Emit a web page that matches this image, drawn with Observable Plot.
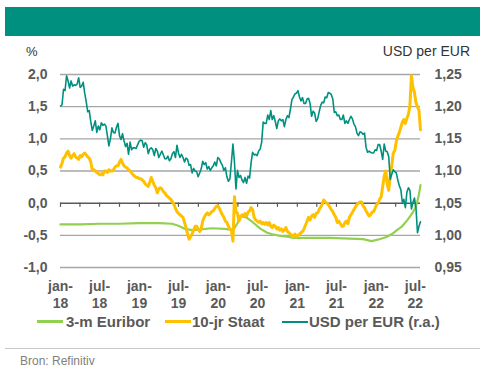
<!DOCTYPE html>
<html>
<head>
<meta charset="utf-8">
<script src="https://cdn.jsdelivr.net/npm/d3@7"></script>
<script src="https://cdn.jsdelivr.net/npm/@observablehq/plot@0.6"></script>
<style>
  html, body { margin: 0; padding: 0; background: #fff; }
  #root { position: relative; width: 490px; height: 381px; overflow: hidden;
          font-family: "Liberation Sans", Arial, sans-serif; }
  .abs { position: absolute; white-space: nowrap; }
  #chart { position: absolute; left: 0; top: 0; }
  .lg-line { position: absolute; width: 26px; }
  .lg-text { position: absolute; font-size: 15px; line-height: 15px; font-weight: bold; color: #595959; top: 314px; }
</style>
</head>
<body>
<div id="root">
  <div class="abs" style="left:5px;top:7px;width:475px;height:29px;background:#00907f;"></div>
  <div class="abs" style="left:26px;top:45px;font-size:13px;line-height:13px;color:#333;">%</div>
  <div class="abs" style="right:20px;top:44px;font-size:14px;line-height:14px;color:#333;">USD per EUR</div>
  <div id="chart"></div>
  <div class="lg-line" style="left:37px;top:320px;height:3px;background:#92d050;"></div>
  <div class="lg-text" style="left:66px;">3-m Euribor</div>
  <div class="lg-line" style="left:165px;top:320px;height:3px;background:#ffc000;"></div>
  <div class="lg-text" style="left:192px;">10-jr Staat</div>
  <div class="lg-line" style="left:282px;top:321px;height:2px;background:#00907f;"></div>
  <div class="lg-text" style="left:309px;">USD per EUR (r.a.)</div>
  <div class="abs" style="left:5px;top:348px;width:475px;height:1px;background:#c8c8c8;"></div>
  <div class="abs" style="left:20px;top:355px;font-size:12px;line-height:12px;color:#808080;">Bron: Refinitiv</div>
</div>
<script>
// ---- data ----
// weekly observations (Mondays) starting 2018-01-01
const weekStart = "2018-01-01";

const usdPerEur = [
  1.201,1.203,1.227,1.225,1.248,1.240,1.229,1.240,1.232,1.234,1.233,1.235,1.245,1.230,1.232,1.238,1.221,1.208,1.192,1.194,1.177,1.163,1.170,1.178,1.160,1.170,1.164,1.175,1.171,1.173,1.170,1.155,1.139,1.150,1.167,1.160,1.159,1.168,1.174,1.155,1.149,1.158,1.147,1.138,1.143,1.126,1.145,1.133,1.136,1.136,1.135,1.141,1.146,
  1.148,1.147,1.137,1.144,1.141,1.127,1.134,1.136,1.133,1.124,1.135,1.131,1.121,1.126,1.131,1.125,1.119,1.119,1.123,1.116,1.119,1.127,1.130,1.121,1.140,1.128,1.121,1.126,1.121,1.114,1.120,1.118,1.109,1.110,1.097,1.104,1.100,1.099,1.091,1.097,1.103,1.115,1.110,1.113,1.103,1.107,1.101,1.105,1.108,1.114,1.108,1.121,
  1.119,1.113,1.109,1.101,1.105,1.091,1.084,1.088,1.114,1.142,1.114,1.072,1.101,1.090,1.093,1.086,1.082,1.090,1.081,1.092,1.089,1.113,1.129,1.125,1.126,1.124,1.131,1.134,1.145,1.176,1.174,1.174,1.187,1.180,1.194,1.180,1.186,1.177,1.166,1.178,1.181,1.178,1.180,1.169,1.180,1.186,1.183,1.196,1.211,1.215,1.220,1.221,
  1.225,1.215,1.209,1.214,1.205,1.205,1.212,1.213,1.205,1.185,1.193,1.190,1.177,1.181,1.192,1.202,1.207,1.206,1.215,1.214,1.222,1.221,1.219,1.212,1.191,1.192,1.186,1.187,1.180,1.180,1.187,1.174,1.178,1.174,1.180,1.185,1.181,1.173,1.169,1.159,1.155,1.161,1.160,1.157,1.159,1.137,1.129,1.131,1.129,1.128,1.128,1.133,
  1.132,1.141,1.141,1.131,1.118,1.142,1.131,1.130,1.122,1.087,1.095,1.102,1.099,1.097,1.086,1.077,1.071,1.051,1.056,1.043,1.067,1.074,1.070,1.041,1.051,1.058,1.043,1.004,1.014,1.021
];

const staat10jr = [
  0.56,0.62,0.70,0.72,0.78,0.81,0.74,0.70,0.74,0.77,0.72,0.70,0.68,0.74,0.72,0.76,0.78,0.75,0.72,0.70,0.64,0.52,0.52,0.50,0.48,0.46,0.44,0.46,0.44,0.50,0.50,0.48,0.52,0.50,0.50,0.52,0.56,0.58,0.58,0.64,0.68,0.62,0.58,0.56,0.55,0.52,0.50,0.47,0.44,0.42,0.40,0.40,0.38,
  0.38,0.36,0.34,0.30,0.28,0.26,0.32,0.40,0.34,0.28,0.24,0.16,0.22,0.24,0.22,0.18,0.16,0.12,0.10,0.08,0.06,0.02,-0.02,-0.08,-0.13,-0.16,-0.18,-0.20,-0.22,-0.30,-0.38,-0.48,-0.56,-0.52,-0.48,-0.42,-0.36,-0.36,-0.40,-0.44,-0.40,-0.28,-0.22,-0.18,-0.15,-0.18,-0.16,-0.13,-0.12,-0.08,-0.05,-0.04,
  -0.08,-0.13,-0.18,-0.22,-0.28,-0.30,-0.36,-0.40,-0.42,-0.59,0.10,-0.13,-0.16,-0.28,-0.22,-0.18,-0.20,-0.16,-0.20,-0.14,-0.12,-0.07,-0.10,-0.22,-0.26,-0.28,-0.30,-0.28,-0.32,-0.30,-0.33,-0.30,-0.34,-0.30,-0.36,-0.38,-0.34,-0.36,-0.40,-0.38,-0.42,-0.40,-0.44,-0.42,-0.38,-0.44,-0.46,-0.48,-0.50,-0.52,-0.48,-0.52,
  -0.50,-0.48,-0.46,-0.44,-0.40,-0.34,-0.28,-0.22,-0.26,-0.20,-0.18,-0.22,-0.16,-0.15,-0.10,-0.06,-0.02,0.05,0.02,0.00,-0.02,-0.06,-0.10,-0.13,-0.18,-0.22,-0.30,-0.28,-0.32,-0.36,-0.36,-0.30,-0.28,-0.32,-0.22,-0.18,-0.14,-0.10,-0.06,-0.02,0.00,0.02,0.02,-0.04,-0.07,-0.12,-0.16,-0.20,-0.18,-0.14,-0.13,-0.08,
  -0.02,0.00,0.06,0.10,0.26,0.42,0.50,0.30,0.20,0.42,0.58,0.78,0.82,0.96,1.04,1.10,1.18,1.26,1.30,1.24,1.32,1.38,1.52,1.98,1.80,1.72,1.56,1.50,1.44,1.14
];

const euriborDates = ["2018-01-01","2018-04-01","2018-07-01","2018-10-01","2019-01-01","2019-04-01","2019-06-01","2019-07-01","2019-08-01","2019-09-01","2019-10-01","2019-12-01","2020-02-01","2020-03-10","2020-04-01","2020-04-10","2020-05-10","2020-06-10","2020-07-15","2020-08-15","2020-09-15","2020-10-15","2020-11-15","2020-12-15","2021-02-01","2021-06-01","2021-09-01","2021-11-01","2021-12-10","2022-01-15","2022-02-15","2022-03-15","2022-04-10","2022-05-01","2022-05-26","2022-06-18","2022-06-30","2022-07-10","2022-07-18","2022-07-25"];
const euribor3m = [-0.33,-0.33,-0.32,-0.32,-0.31,-0.31,-0.32,-0.35,-0.40,-0.42,-0.41,-0.39,-0.40,-0.42,-0.30,-0.20,-0.22,-0.30,-0.40,-0.46,-0.49,-0.51,-0.52,-0.54,-0.54,-0.54,-0.55,-0.56,-0.59,-0.56,-0.53,-0.48,-0.41,-0.36,-0.26,-0.15,-0.08,0.02,0.14,0.28];

const leftTicks = [-1, -0.5, 0, 0.5, 1, 1.5, 2];
const rightTicks = [0.95, 1.00, 1.05, 1.10, 1.15, 1.20, 1.25];
const xLabelDates = ["2018-01-01","2018-07-01","2019-01-01","2019-07-01","2020-01-01","2020-07-01","2021-01-01","2021-07-01","2022-01-01","2022-07-01"];
const monthLabels = {0: "jan-", 6: "jul-"};

// ---- build ----
const t0 = new Date(weekStart).getTime();
const weekDate = i => new Date(t0 + i * 7 * 864e5);
const toLeft = u => 10 * u - 10.5;      // 1,25 <-> 2,0 ; 0,95 <-> -1,0
const fromLeft = v => (v + 10.5) / 10;

const usdRows = usdPerEur.map((u, i) => ({date: weekDate(i), v: toLeft(u)}));
const yieldRows = staat10jr.map((v, i) => ({date: weekDate(i), v}));
const euriborRows = euriborDates.map((d, i) => ({date: new Date(d), v: euribor3m[i]}));
const labelDates = xLabelDates.map(d => new Date(d));
const quarterTicks = d3.utcMonth.every(3).range(new Date("2018-01-01"), new Date("2022-07-02"));

const chart = Plot.plot({
  width: 490,
  height: 320,
  marginTop: 74,
  marginBottom: 53,
  marginLeft: 60,
  marginRight: 70,
  style: {
    fontFamily: "'Liberation Sans', Arial, sans-serif",
    fontSize: "14px",
    fontWeight: "bold",
    color: "#595959",
    background: "transparent",
    overflow: "visible"
  },
  x: {type: "utc", domain: [new Date("2018-01-01"), new Date("2022-07-25")]},
  y: {domain: [-1, 2]},
  marks: [
    Plot.gridY({ticks: leftTicks.filter(d => d !== 0), stroke: "#a6a6a6", strokeOpacity: 1, strokeWidth: 1.3}),
    Plot.ruleY([0], {stroke: "#595959", strokeWidth: 1.5}),
    Plot.ruleX(quarterTicks, {x: d => d, y1: 0, y2: -0.065, stroke: "#595959", strokeWidth: 1.2}),
    Plot.axisY({ticks: leftTicks, tickSize: 0, tickPadding: 13, label: null,
      tickFormat: d => d.toFixed(1).replace(".", ",")}),
    Plot.axisY({anchor: "right", ticks: rightTicks.map(toLeft), tickSize: 0, tickPadding: 14, label: null,
      tickFormat: v => fromLeft(v).toFixed(2).replace(".", ",")}),
    Plot.axisX({ticks: labelDates, tickSize: 0, tickPadding: 14, label: null,
      tickFormat: d => monthLabels[d.getUTCMonth()]}),
    Plot.axisX({ticks: labelDates, tickSize: 0, tickPadding: 31, label: null,
      tickFormat: d => String(d.getUTCFullYear()).slice(2)}),
    Plot.line(euriborRows, {x: "date", y: "v", stroke: "#92d050", strokeWidth: 2.2}),
    Plot.line(yieldRows, {x: "date", y: "v", stroke: "#ffc000", strokeWidth: 3}),
    Plot.line(usdRows, {x: "date", y: "v", stroke: "#00907f", strokeWidth: 1.6})
  ]
});
document.getElementById("chart").appendChild(chart);
</script>
</body>
</html>
